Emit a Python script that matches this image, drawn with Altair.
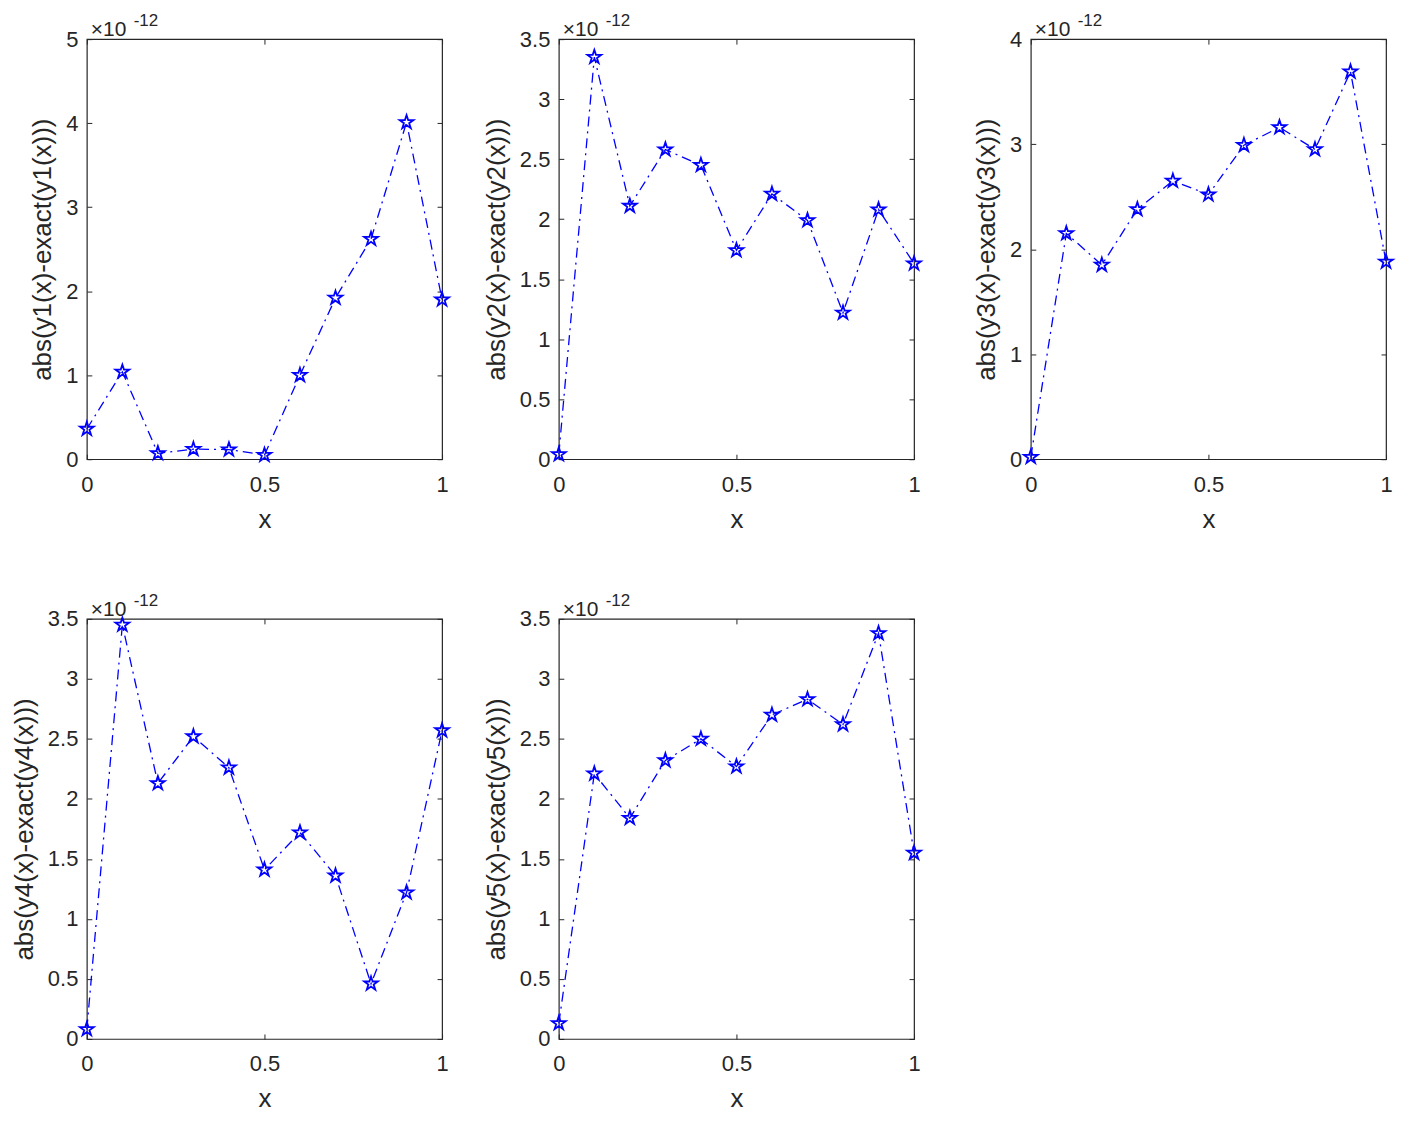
import altair as alt
import numpy as np
import pandas as pd

# x grid points
x_vals = [0.0, 0.1, 0.2, 0.3, 0.4, 0.5, 0.6, 0.7, 0.8, 0.9, 1.0]

# absolute errors, in units of 1e-12
err_y1 = [0.36, 1.04, 0.07, 0.12, 0.115, 0.05, 1.00, 1.92, 2.62, 4.01, 1.90]
err_y2 = [0.04, 3.35, 2.11, 2.58, 2.45, 1.74, 2.21, 1.99, 1.22, 2.08, 1.63]
err_y3 = [0.02, 2.15, 1.85, 2.38, 2.65, 2.52, 2.99, 3.16, 2.95, 3.69, 1.88]
err_y4 = [0.08, 3.45, 2.13, 2.52, 2.26, 1.41, 1.72, 1.36, 0.46, 1.22, 2.57]
err_y5 = [0.13, 2.21, 1.84, 2.32, 2.50, 2.27, 2.70, 2.83, 2.62, 3.38, 1.55]

y_titles = ["abs(y1(x)-exact(y1(x)))", "abs(y2(x)-exact(y2(x)))",
            "abs(y3(x)-exact(y3(x)))", "abs(y4(x)-exact(y4(x)))",
            "abs(y5(x)-exact(y5(x)))"]
y_max = [5, 3.5, 4, 3.5, 3.5]
y_step = [1, 0.5, 1, 0.5, 0.5]
x_ticks = [0, 0.5, 1]
exp_base = "×10"
exp_sup = "-12"

BLUE = "#0000FF"
DARK = "#262626"
FONT = "Liberation Sans"
STAR = ("M0,-1L0.225,-0.309L0.951,-0.309L0.363,0.118L0.588,0.809L0,0.382"
        "L-0.588,0.809L-0.363,0.118L-0.951,-0.309L-0.225,-0.309Z")

W, H = 356, 421


def panel(vals, ymax, ystep, ytitle):
    df = pd.DataFrame({"x": x_vals, "y": vals})
    yticks = [round(v, 3) for v in np.arange(0, ymax + 1e-9, ystep)]
    xs = alt.Scale(domain=[0, 1], nice=False, zero=False)
    ys = alt.Scale(domain=[0, ymax], nice=False, zero=True)
    common = dict(grid=False, domain=False, offset=-5, tickSize=5,
                  tickColor=DARK, tickWidth=1, labelColor=DARK,
                  titleColor=DARK, labelFont=FONT, titleFont=FONT,
                  labelFontSize=22, titleFontSize=26,
                  titleFontWeight="normal", labelFlush=False,
                  labelOverlap=False, format="~g")
    line = alt.Chart(df).mark_line(
        color=BLUE, strokeWidth=1.3, strokeDash=[10, 5, 2, 5]
    ).encode(
        x=alt.X("x:Q", scale=xs,
                axis=alt.Axis(orient="bottom", values=x_ticks, title="x",
                              labelPadding=15, titlePadding=11, **common)),
        y=alt.Y("y:Q", scale=ys,
                axis=alt.Axis(orient="left", values=yticks, title=ytitle,
                              labelPadding=9, titlePadding=10, **common)),
    )
    pts = alt.Chart(df).mark_point(
        shape=STAR, size=210, filled=False, color=BLUE, strokeWidth=1.8,
        opacity=1
    ).encode(
        x=alt.X("x:Q", scale=xs, axis=None),
        y=alt.Y("y:Q", scale=ys, axis=None),
    )
    ticks = alt.Chart(df).mark_point(opacity=0).encode(
        x=alt.X("x:Q", scale=xs,
                axis=alt.Axis(orient="top", values=x_ticks, labels=False,
                              title=None, grid=False, domain=False,
                              offset=-5, tickSize=5, tickColor=DARK)),
        y=alt.Y("y:Q", scale=ys,
                axis=alt.Axis(orient="right", values=yticks, labels=False,
                              title=None, grid=False, domain=False,
                              offset=-5, tickSize=5, tickColor=DARK)),
    )
    t1 = alt.Chart(pd.DataFrame({"t": [exp_base]})).mark_text(
        align="left", baseline="alphabetic", font=FONT, fontSize=21,
        color=DARK
    ).encode(text="t:N", x=alt.value(4), y=alt.value(-3))
    t2 = alt.Chart(pd.DataFrame({"t": [exp_sup]})).mark_text(
        align="left", baseline="alphabetic", font=FONT, fontSize=17,
        color=DARK
    ).encode(text="t:N", x=alt.value(47), y=alt.value(-13))
    return alt.layer(line, pts, ticks, t1, t2).resolve_axis(
        x="independent", y="independent"
    ).properties(width=W, height=H)


series = [err_y1, err_y2, err_y3, err_y4, err_y5]
panels = [panel(s, m, st, t) for s, m, st, t in zip(series, y_max, y_step, y_titles)]

chart = alt.concat(
    *panels, columns=3, spacing={"row": 160, "column": 117}, bounds="flush"
).properties(
    padding={"left": 2, "top": 2, "right": 0, "bottom": 0},
    background="white"
).configure_view(
    stroke=DARK, strokeWidth=1.2
)

chart.save("out.html", embed_options={"renderer": "svg", "actions": False})
